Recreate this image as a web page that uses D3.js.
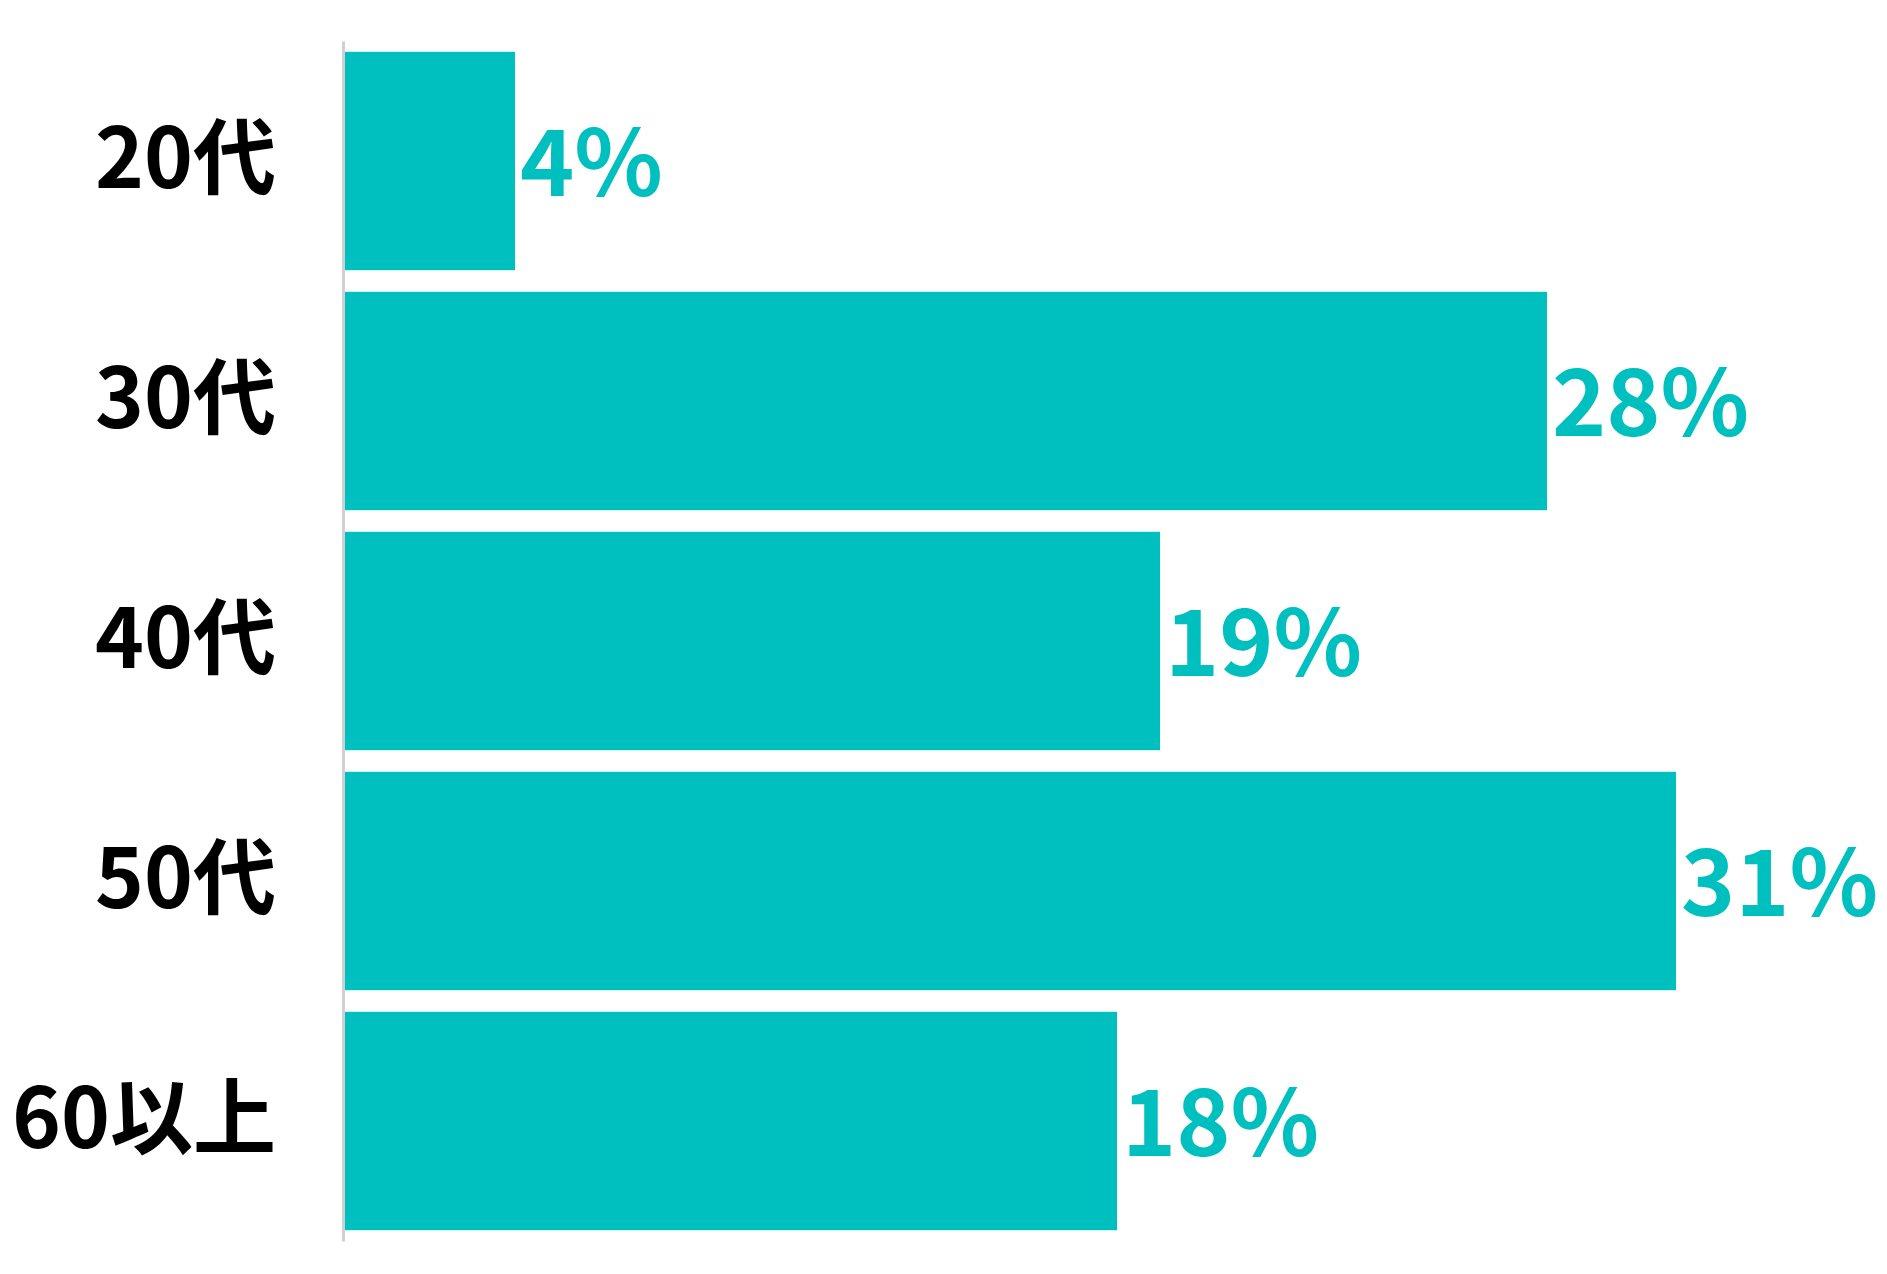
<!DOCTYPE html>
<html>
<head>
<meta charset="utf-8">
<script src="https://cdn.jsdelivr.net/npm/d3@7"></script>
<style>
  html, body { margin: 0; padding: 0; background: #fff; }
  svg { display: block; }
</style>
</head>
<body>
<div id="chart"></div>
<script>
// age groups and share of respondents (%)
const categories = ["20代", "30代", "40代", "50代", "60以上"];
const values = [4, 28, 19, 31, 18];
const valueLabels = ["4%", "28%", "19%", "31%", "18%"];

const width = 1887, height = 1274;
const margin = { top: 41, left: 343, bottom: 33 };
const teal = "#00bfbf";
const font = "'Noto Sans CJK JP', 'Noto Sans', sans-serif";

const svg = d3.select("#chart")
  .append("svg")
  .attr("width", width)
  .attr("height", height);

const y = d3.scaleBand()
  .domain(categories)
  .range([margin.top, height - margin.bottom])
  .paddingInner(0.09)
  .paddingOuter(0.045);

const x = d3.scaleLinear()
  .domain([0, 40])
  .range([margin.left, margin.left + 1720]);

const rows = categories.map((c, i) => ({ cat: c, value: values[i], label: valueLabels[i] }));

// bars
svg.append("g")
  .selectAll("rect")
  .data(rows)
  .enter()
  .append("rect")
  .attr("x", x(0) + 1)
  .attr("y", d => y(d.cat))
  .attr("width", d => x(d.value) - x(0) - 1)
  .attr("height", y.bandwidth())
  .attr("fill", teal);

// value labels
svg.append("g")
  .selectAll("text")
  .data(rows)
  .enter()
  .append("text")
  .attr("x", d => x(d.value) + 5)
  .attr("y", d => y(d.cat) + y.bandwidth() / 2)
  .attr("dy", "0.38em")
  .attr("fill", teal)
  .style("font-family", font)
  .style("font-weight", 700)
  .style("font-size", "92px")
  .text(d => d.label);

// category axis
const axis = svg.append("g")
  .attr("transform", `translate(${margin.left},0)`)
  .call(d3.axisLeft(y).tickSize(0).tickPadding(67).tickSizeOuter(0));

axis.select(".domain")
  .attr("stroke", "#d0d0d0")
  .attr("stroke-width", 3);

axis.selectAll(".tick text")
  .attr("fill", "#000")
  .attr("dy", "0.32em")
  .style("font-family", font)
  .style("font-weight", 700)
  .style("font-size", "83px");
</script>
</body>
</html>
